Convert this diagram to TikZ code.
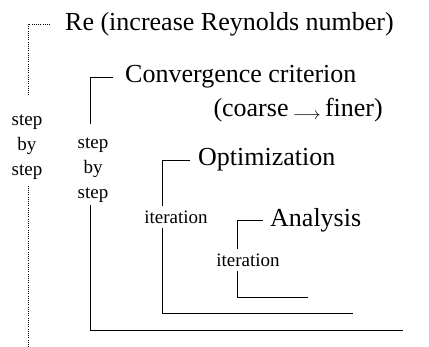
\documentclass[tikz,border=0pt]{standalone}
\usepackage{fontspec}
\setmainfont{Liberation Serif}
\usepackage{graphicx}
\tikzset{
  big/.style={font=\fontsize{26}{30}\selectfont,inner sep=0pt,anchor=west},
  small/.style={font=\fontsize{19}{25}\selectfont,inner sep=0pt,align=center},
  loop/.style={line width=0.9pt},
  outer/.style={line width=0.9pt,dash pattern=on 0.9pt off 1.3pt},
}
\begin{document}
\begin{tikzpicture}[x=1pt,y=-1pt]
\useasboundingbox(0,0)rectangle(429,347);
% Reynolds number loop, dotted
\node[big](re)at(65,24){Re (increase Reynolds number)};
\coordinate(reT)at(50,24);
\coordinate(reC)at(28,24);
\coordinate(reB)at(28,347);
\node[small](reS)at(27,147){step\\by\\step};
\draw[outer,shorten >=20pt](reT)--(reC)--(reC|-reS.north);
\draw[outer,shorten <=6pt](reC|-reS.south)--(reB);
% convergence loop
\node[big](conv)at(125,77){Convergence criterion};
\node[big,anchor=east](cf)at(383,110){(coarse\,\raisebox{-.25ex}{$\scriptstyle\longrightarrow$}\,finer)};
\coordinate(convT)at(113,77);
\coordinate(convC)at(90,77);
\coordinate(convB)at(90,330);
\coordinate(convE)at(403,330);
\node[small](convS)at(93,170){step\\by\\step};
\draw[loop,shorten >=13pt](convT)--(convC)--(convC|-convS.north);
\draw[loop,shorten <=2pt](convC|-convS.south)--(convB)--(convE);
% optimization loop
\node[big](opt)at(198,160){Optimization};
\coordinate(optT)at(190,160);
\coordinate(optC)at(162,160);
\coordinate(optB)at(162,313);
\coordinate(optE)at(353,313);
\node[small](optI)at(176,217){iteration};
\draw[loop,shorten >=4pt](optT)--(optC)--(optC|-optI.north);
\draw[loop,shorten <=4pt](optC|-optI.south)--(optB)--(optE);
% analysis loop
\node[big](ana)at(270,220){Analysis};
\coordinate(anaT)at(263,220);
\coordinate(anaC)at(237,220);
\coordinate(anaB)at(237,297);
\coordinate(anaE)at(308,297);
\node[small](anaI)at(248,260){iteration};
\draw[loop,shorten >=4pt](anaT)--(anaC)--(anaC|-anaI.north);
\draw[loop,shorten <=4pt](anaC|-anaI.south)--(anaB)--(anaE);
\end{tikzpicture}
\end{document}
